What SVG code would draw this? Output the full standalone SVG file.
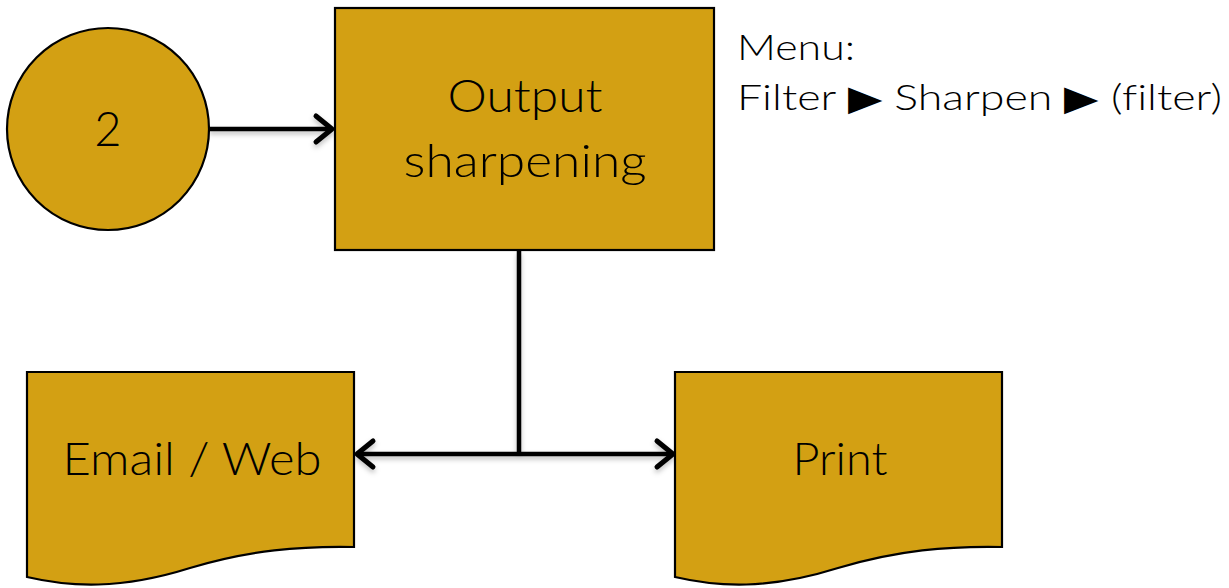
<svg xmlns="http://www.w3.org/2000/svg" width="1229" height="588" viewBox="0 0 1229 588">
<style>
.node{fill:#D3A013;stroke:#000;stroke-width:2.2}
.lbl{font-family:Lato,"Noto Sans","Liberation Sans",sans-serif;font-weight:300;fill:#000;text-anchor:middle;font-variant-ligatures:none}
.menu{font-family:Lato,"Noto Sans","Liberation Sans",sans-serif;font-weight:300;fill:#000;font-size:35px;font-variant-ligatures:none}
.conn{fill:none;stroke:#000;stroke-width:4.5}
.head{fill:none;stroke:#000;stroke-width:5;stroke-linecap:round;stroke-linejoin:round}
</style>
<defs>
<filter id="sh" x="-10%" y="-50%" width="120%" height="200%">
<feDropShadow dx="0" dy="3" stdDeviation="2.5" flood-color="#000" flood-opacity="0.25"/>
</filter>
</defs>
<rect width="1229" height="588" fill="#fff"/>
<g id="connectors" filter="url(#sh)">
<line class="conn" x1="209" y1="129" x2="331" y2="129"/>
<polyline class="head" points="316,116 332,129 316,142"/>
<line class="conn" x1="519" y1="251" x2="519" y2="452"/>
<line class="conn" x1="358" y1="454" x2="672" y2="454"/>
<polyline class="head" points="373,441 357,454 373,467"/>
<polyline class="head" points="657,441 673,454 657,467"/>
</g>
<g id="node-2">
<circle class="node" cx="108" cy="129" r="101"/>
<text class="lbl" x="108" y="146" font-size="47">2</text>
</g>
<g id="node-output-sharpening">
<rect class="node" x="335" y="8" width="379" height="242"/>
<text class="lbl" x="525" y="112" font-size="45" textLength="155" lengthAdjust="spacingAndGlyphs">Output</text>
<text class="lbl" x="525" y="177" font-size="45" textLength="243" lengthAdjust="spacingAndGlyphs">sharpening</text>
</g>
<g id="node-menu">
<text class="menu" x="737" y="60" textLength="118" lengthAdjust="spacingAndGlyphs">Menu:</text>
<text class="menu" x="737" y="110" textLength="485" lengthAdjust="spacingAndGlyphs">Filter ▶ Sharpen ▶ (filter)</text>
</g>
<g id="node-email-web">
<path class="node" d="M27,372 H354 V547 C300,546 250,550 190,568 C120,590 70,587 27,577 Z"/>
<text class="lbl" x="192" y="475" font-size="45" textLength="259" lengthAdjust="spacingAndGlyphs">Email / Web</text>
</g>
<g id="node-print">
<path class="node" d="M675,372 H1002 V547 C948,546 898,550 838,568 C768,590 718,587 675,577 Z"/>
<text class="lbl" x="840" y="475" font-size="45" textLength="95" lengthAdjust="spacingAndGlyphs">Print</text>
</g>
</svg>
